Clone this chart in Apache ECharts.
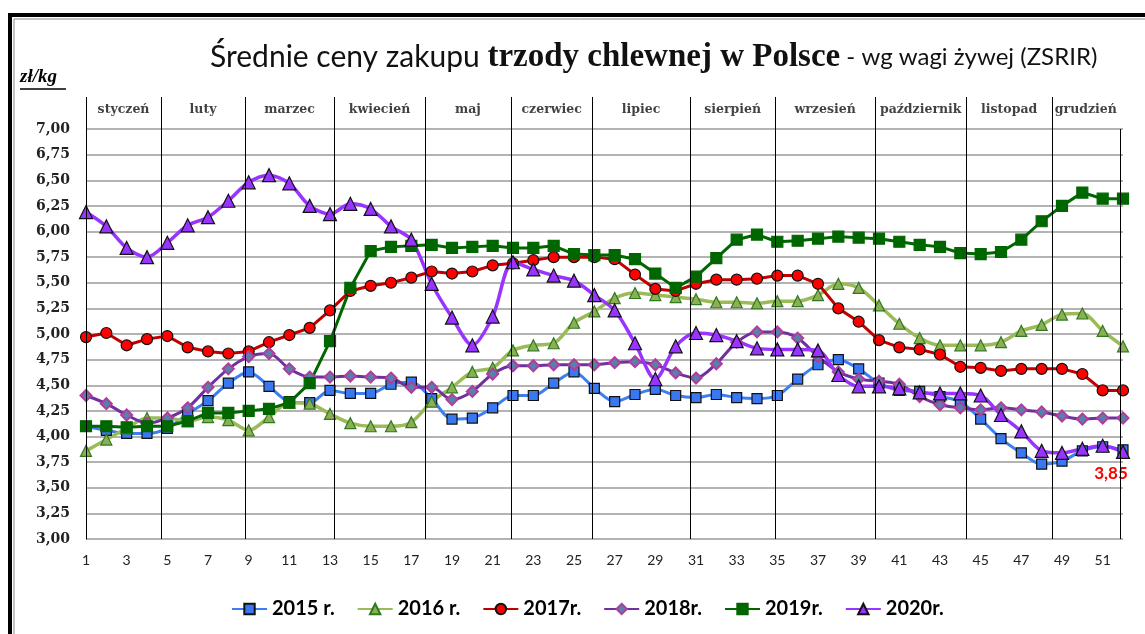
<!DOCTYPE html>
<html>
<head>
<meta charset="utf-8">
<title>Średnie ceny zakupu trzody chlewnej w Polsce</title>
<script src="https://cdn.jsdelivr.net/npm/echarts@6/dist/echarts.min.js"></script>
<style>
  html, body { margin: 0; padding: 0; background: #fff; }
  #chart { width: 1145px; height: 634px; }
</style>
</head>
<body>
<div id="chart"></div>
<script>
// ceny tygodniowe zl/kg, tygodnie 1..52
const w2015 = [4.10,4.06,4.03,4.03,4.08,4.22,4.35,4.52,4.63,4.49,4.34,4.33,4.45,4.42,4.42,4.51,4.53,4.37,4.17,4.18,
  4.28,4.40,4.40,4.52,4.63,4.47,4.34,4.41,4.46,4.40,4.38,4.41,4.38,4.37,4.40,4.56,4.70,4.75,4.66,4.52,
  4.45,4.44,4.39,4.34,4.17,3.98,3.84,3.73,3.76,3.86,3.90,3.87]
const w2016 = [3.86,3.97,4.08,4.18,4.18,4.15,4.19,4.16,4.06,4.19,4.33,4.32,4.22,4.13,4.10,4.10,4.14,4.34,4.48,4.63,
  4.67,4.84,4.89,4.91,5.11,5.22,5.35,5.40,5.38,5.36,5.34,5.31,5.31,5.30,5.32,5.32,5.38,5.49,5.45,5.28,
  5.10,4.96,4.89,4.89,4.89,4.92,5.03,5.09,5.19,5.20,5.03,4.88]
const w2017 = [4.97,5.01,4.89,4.95,4.98,4.87,4.83,4.81,4.83,4.92,4.99,5.06,5.23,5.42,5.47,5.50,5.55,5.61,5.59,5.61,
  5.67,5.69,5.72,5.75,5.75,5.75,5.73,5.58,5.44,5.42,5.49,5.53,5.53,5.54,5.57,5.57,5.49,5.25,5.12,4.94,
  4.87,4.85,4.80,4.68,4.67,4.64,4.66,4.66,4.66,4.61,4.45,4.45]
const w2018 = [4.40,4.32,4.21,4.13,4.18,4.28,4.48,4.66,4.78,4.81,4.66,4.58,4.58,4.59,4.58,4.57,4.48,4.48,4.36,4.44,
  4.61,4.69,4.69,4.70,4.70,4.70,4.72,4.73,4.70,4.62,4.57,4.71,4.92,5.02,5.02,4.96,4.78,4.63,4.56,4.54,
  4.51,4.39,4.31,4.28,4.26,4.28,4.26,4.24,4.20,4.17,4.18,4.18]
const w2019 = [4.10,4.10,4.09,4.10,4.10,4.15,4.23,4.23,4.25,4.27,4.33,4.52,4.93,5.45,5.81,5.85,5.86,5.87,5.84,5.85,
  5.86,5.84,5.84,5.86,5.78,5.77,5.77,5.73,5.59,5.45,5.56,5.74,5.92,5.97,5.90,5.91,5.93,5.95,5.94,5.93,
  5.90,5.87,5.85,5.79,5.78,5.80,5.92,6.10,6.25,6.38,6.32,6.32]
const w2020 = [6.19,6.05,5.84,5.75,5.89,6.06,6.14,6.30,6.48,6.55,6.47,6.25,6.17,6.27,6.22,6.05,5.92,5.49,5.16,4.89,
  5.17,5.70,5.63,5.57,5.52,5.38,5.23,4.91,4.56,4.88,5.01,4.99,4.93,4.86,4.85,4.85,4.84,4.60,4.49,4.49,
  4.47,4.43,4.42,4.42,4.40,4.21,4.05,3.86,3.84,3.88,3.91,3.85]

const months = ['styczeń','luty','marzec','kwiecień','maj','czerwiec','lipiec','sierpień','wrzesień','październik','listopad','grudzień']
// granice miesiecy w jednostkach tygodnia
const monthEdges = [1, 4.69, 8.82, 13.2, 17.67, 21.9, 25.9, 30.7, 34.9, 39.8, 44.3, 48.5, 51.85]

const chart = echarts.init(document.getElementById('chart'))

const comma = v => v.toFixed(2).replace('.', ',')
const toPairs = arr => arr.map((v, i) => [i + 1, v])

function lineSeries(name, data, lineColor, symbol, fill, border, size, smooth, extra) {
  return Object.assign({
    name: name,
    type: 'line',
    data: toPairs(data),
    smooth: smooth,
    symbol: symbol,
    symbolSize: size,
    showAllSymbol: true,
    lineStyle: { color: lineColor, width: 3 },
    itemStyle: { color: fill, borderColor: border, borderWidth: 1.2 }
  }, extra || {})
}

const sepLine = { color: '#000', width: 1, type: 'solid' }

chart.setOption({
  animation: false,
  backgroundColor: '#fff',
  title: {
    text: '{a|Średnie ceny zakupu }{b|trzody chlewnej w Polsce}{c| - wg wagi żywej (ZSRIR)}',
    left: 205,
    top: 36,
    textStyle: {
      fontWeight: 'normal',
      rich: {
        a: { fontFamily: 'Lato', fontWeight: 'normal', fontSize: 30, color: '#111' },
        b: { fontFamily: 'Liberation Serif', fontWeight: 'bold', fontSize: 33, color: '#111' },
        c: { fontFamily: 'Lato', fontWeight: 'normal', fontSize: 24, color: '#111' }
      }
    }
  },
  graphic: [
    { type: 'rect', shape: { x: 8, y: 13, width: 1137, height: 4 }, style: { fill: '#000' } },
    { type: 'rect', shape: { x: 8, y: 13, width: 4, height: 621 }, style: { fill: '#000' } },
    { type: 'line', shape: { x1: 14, y1: 19, x2: 1145, y2: 19 }, style: { stroke: '#888', lineWidth: 1 } },
    { type: 'line', shape: { x1: 14, y1: 19, x2: 14, y2: 634 }, style: { stroke: '#888', lineWidth: 1 } },
    { type: 'text', left: 20, top: 68, style: { text: 'zł/kg', font: 'italic bold 19px "Liberation Serif"', fill: '#000' } },
    { type: 'line', shape: { x1: 20, y1: 89, x2: 66, y2: 89 }, style: { stroke: '#000', lineWidth: 1.4 } }
  ],
  legend: {
    data: ['2015 r.', '2016 r.', '2017r.', '2018r.', '2019r.', '2020r.'],
    left: 226,
    top: 594,
    itemWidth: 35,
    itemHeight: 13,
    itemGap: 22,
    textStyle: { fontFamily: 'Lato', fontWeight: 'bold', fontSize: 20, color: '#000' }
  },
  grid: [
    { left: 86, right: 22, top: 129, bottom: 95 },
    { left: 86, right: 22, top: 97, height: 32 }
  ],
  xAxis: [
    {
      type: 'value', gridIndex: 0, min: 1, max: 52, interval: 2,
      axisLine: { show: false },
      axisTick: { show: false },
      splitLine: { show: false },
      axisLabel: {
        margin: 14,
        fontFamily: 'Lato', fontSize: 14, color: '#222',
        formatter: v => (v % 2 === 1 ? String(v) : '')
      }
    },
    { type: 'value', gridIndex: 1, min: 1, max: 52, show: false }
  ],
  yAxis: [
    {
      type: 'value', gridIndex: 0, min: 3, max: 7, interval: 0.25,
      axisLine: { show: true, lineStyle: { color: '#000', width: 1 } },
      axisTick: { show: false },
      splitLine: { lineStyle: { color: '#9a9a9a', width: 1.6 } },
      axisLabel: {
        margin: 16,
        fontFamily: 'DejaVu Serif', fontWeight: 'bold', fontSize: 14, color: '#222',
        formatter: comma
      }
    },
    { type: 'value', gridIndex: 1, min: 0, max: 1, show: false }
  ],
  series: [
    {
      name: 'miesiace',
      type: 'line',
      data: [],
      silent: true,
      markLine: {
        silent: true, symbol: ['none', 'none'], label: { show: false },
        lineStyle: sepLine,
        data: monthEdges.map(e => ({ xAxis: e }))
      }
    },
    {
      name: 'naglowek',
      type: 'scatter',
      xAxisIndex: 1, yAxisIndex: 1,
      symbolSize: 1,
      itemStyle: { color: 'rgba(0,0,0,0)' },
      silent: true,
      data: months.map((m, i) => [(monthEdges[i] + monthEdges[i + 1]) / 2, 0.6, m]),
      label: {
        show: true, position: 'inside',
        formatter: p => p.data[2],
        fontFamily: 'DejaVu Serif', fontWeight: 'bold', fontSize: 12.5, color: '#111'
      },
      markLine: {
        silent: true, symbol: ['none', 'none'], label: { show: false },
        lineStyle: sepLine,
        data: monthEdges.slice(0, -1).map(e => ({ xAxis: e }))
      }
    },
    lineSeries('2015 r.', w2015, '#3d7ef0', 'rect', '#3a78f2', '#111', 10, 0.3),
    lineSeries('2016 r.', w2016, '#9bbb59', 'triangle', '#8cae55', '#2f7a1f', 11, 0.3, { lineStyle: { color: '#9bbb59', width: 3.5 } }),
    lineSeries('2017r.', w2017, '#c00000', 'circle', '#ff0000', '#111', 11, false),
    lineSeries('2018r.', w2018, '#7030a0', 'diamond', '#5681aa', '#b03c9e', 11, 0.3, { itemStyle: { color: '#5681aa', borderColor: '#b03c9e', borderWidth: 2 } }),
    lineSeries('2019r.', w2019, '#006600', 'rect', '#006600', '#006600', 11, false),
    lineSeries('2020r.', w2020, '#9933ff', 'triangle', '#9933ff', '#111', 13, 0.3, {
      lineStyle: { color: '#9933ff', width: 3.5 },
      label: {
        show: true, position: 'bottom', distance: 6, offset: [-12, 0],
        fontFamily: 'Lato', fontWeight: 'bold', fontSize: 17, color: '#ff0000',
        formatter: p => (p.dataIndex === w2020.length - 1 ? comma(p.value[1]) : '')
      }
    })
  ]
})
</script>
</body>
</html>
